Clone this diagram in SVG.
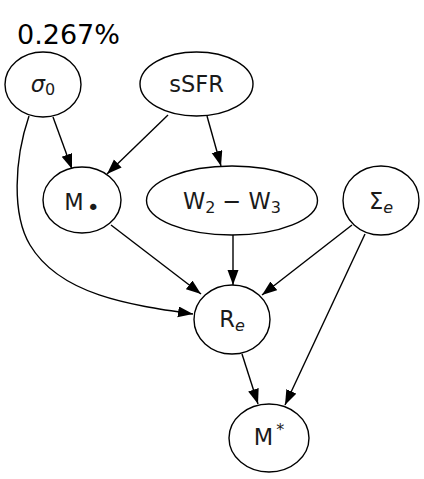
<svg xmlns="http://www.w3.org/2000/svg" width="424" height="479" viewBox="0 0 424 479">
<style>
.n{fill:#fff;stroke:#000;stroke-width:1.4}
.t{font-family:"DejaVu Sans",sans-serif;font-size:22.5px;fill:#1a1a1a;text-anchor:middle}
.s{font-size:16px}
.e{fill:none;stroke:#000;stroke-width:1.4}
</style>
<defs>
<marker id="a" markerUnits="userSpaceOnUse" markerWidth="16" markerHeight="12" refX="15" refY="5.5" orient="auto">
<path d="M0,0 L15,5.5 L0,11 z" fill="#000"/>
</marker>
</defs>
<rect width="424" height="479" fill="#fff"/>
<text x="17" y="44" style="font-family:'DejaVu Sans',sans-serif;font-size:27px;fill:#000">0.267%</text>
<g id="edges">
<path class="e" marker-end="url(#a)" d="M53,117 L72,169"/>
<path class="e" marker-end="url(#a)" d="M168,115 L107,174"/>
<path class="e" marker-end="url(#a)" d="M207,116 L221,166"/>
<path class="e" marker-end="url(#a)" d="M29,116 C14,160 12,215 30,245 C60,295 130,305 193,314"/>
<path class="e" marker-end="url(#a)" d="M111,225 L201,294"/>
<path class="e" marker-end="url(#a)" d="M233,235 L233,285"/>
<path class="e" marker-end="url(#a)" d="M352,225 L262,295"/>
<path class="e" marker-end="url(#a)" d="M365,234 L285,405"/>
<path class="e" marker-end="url(#a)" d="M242,354 L258,404"/>
</g>
<g id="sigma0">
<ellipse class="n" cx="43" cy="84.5" rx="38" ry="32.5"/>
<text class="t" x="43" y="92"><tspan font-style="italic">σ</tspan><tspan class="s" dy="3">0</tspan></text>
</g>
<g id="sSFR">
<ellipse class="n" cx="196.5" cy="84" rx="56.5" ry="32"/>
<text class="t" x="196.5" y="92">sSFR</text>
</g>
<g id="Mdot">
<ellipse class="n" cx="82" cy="200" rx="39" ry="33"/>
<text class="t" x="82" y="210">M<tspan dx="3" dy="5" font-size="22px">•</tspan></text>
</g>
<g id="W2W3">
<ellipse class="n" cx="232" cy="200.5" rx="85.5" ry="34.5"/>
<text class="t" x="232" y="209">W<tspan class="s" dy="4">2</tspan><tspan dy="-4"> − W</tspan><tspan class="s" dy="4">3</tspan></text>
</g>
<g id="SigmaE">
<ellipse class="n" cx="381" cy="200.5" rx="38" ry="34.5"/>
<text class="t" x="381" y="209">Σ<tspan class="s" dy="4" font-style="italic">e</tspan></text>
</g>
<g id="Re">
<ellipse class="n" cx="232" cy="319.5" rx="38" ry="34.5"/>
<text class="t" x="232" y="327">R<tspan class="s" dy="4" font-style="italic">e</tspan></text>
</g>
<g id="Mstar">
<ellipse class="n" cx="269" cy="438" rx="40" ry="34"/>
<text class="t" x="269" y="445">M<tspan class="s" dy="-10" dx="3">*</tspan></text>
</g>
</svg>
